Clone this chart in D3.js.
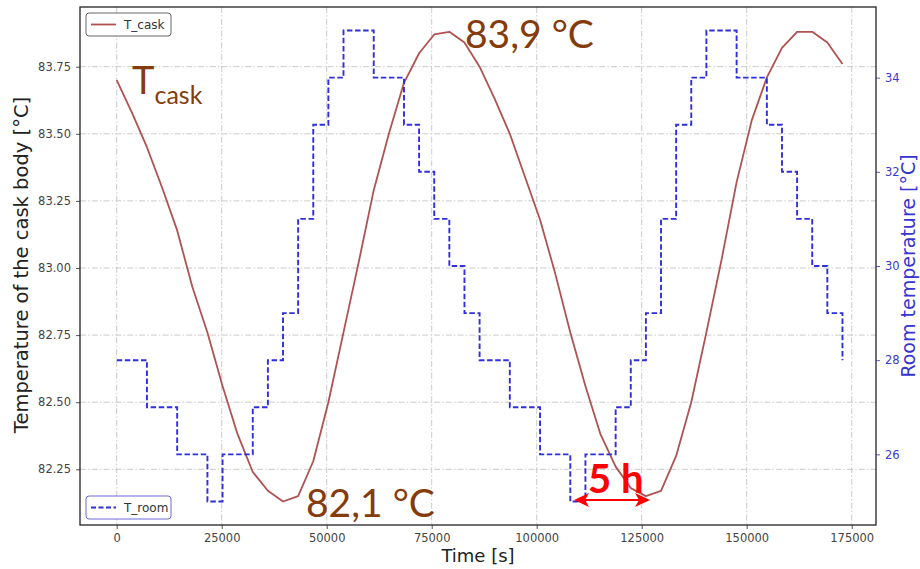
<!DOCTYPE html>
<html>
<head>
<meta charset="utf-8">
<script src="https://cdn.jsdelivr.net/npm/d3@7"></script>
<style>
  body { margin: 0; background: #fff; }
  svg { display: block; }
</style>
</head>
<body>
<svg id="chart" width="920" height="569"></svg>
<script>
// Hourly samples over two days [s]
const timeS = [
  0, 3600, 7200, 10800, 14400, 18000, 21600, 25200, 28800, 32400,
  36000, 39600, 43200, 46800, 50400, 54000, 57600, 61200, 64800, 68400,
  72000, 75600, 79200, 82800, 86400, 90000, 93600, 97200, 100800, 104400,
  108000, 111600, 115200, 118800, 122400, 126000, 129600, 133200, 136800, 140400,
  144000, 147600, 151200, 154800, 158400, 162000, 165600, 169200, 172800
];

// Cask body temperature [°C]
const tCask = [
  83.70, 83.58, 83.45, 83.30, 83.14, 82.93, 82.76, 82.56, 82.38, 82.24,
  82.17, 82.13, 82.15, 82.28, 82.50, 82.76, 83.02, 83.29, 83.50, 83.69,
  83.80, 83.87, 83.88, 83.84, 83.75, 83.63, 83.50, 83.34, 83.18, 82.98,
  82.76, 82.56, 82.38, 82.26, 82.18, 82.15, 82.17, 82.30, 82.50, 82.76,
  83.03, 83.32, 83.55, 83.71, 83.82, 83.88, 83.88, 83.84, 83.76
];

// Room temperature [°C], held constant until the next sample
const tRoom = [
  28, 28, 27, 27, 26, 26, 25, 26, 26, 27,
  28, 29, 31, 33, 34, 35, 35, 34, 34, 33,
  32, 31, 30, 29, 28, 28, 27, 27, 26, 26,
  25, 26, 26, 27, 28, 29, 31, 33, 34, 35,
  35, 34, 34, 33, 32, 31, 30, 29, 28
];

const timeTicks = [0, 25000, 50000, 75000, 100000, 125000, 150000, 175000];
const caskTicks = [82.25, 82.50, 82.75, 83.00, 83.25, 83.50, 83.75];
const roomTicks = [26, 28, 30, 32, 34];

const plot = { left: 80, right: 876, top: 7, bottom: 525 };
const svg = d3.select("#chart");

const x = d3.scaleLinear().domain([-8738, 180786]).range([plot.left, plot.right]);
const yCask = d3.scaleLinear().domain([82.0425, 83.9724]).range([plot.bottom, plot.top]);
const yRoom = d3.scaleLinear().domain([24.5, 35.5]).range([plot.bottom, plot.top]);

svg.append("defs").append("clipPath").attr("id", "plotClip")
  .append("rect")
  .attr("x", plot.left).attr("y", plot.top)
  .attr("width", plot.right - plot.left).attr("height", plot.bottom - plot.top);

// Grid
const grid = svg.append("g").attr("stroke", "#c4c4c4").attr("stroke-width", 0.9)
  .attr("stroke-dasharray", "6,2.2,1.4,2.2");
grid.selectAll("line.v").data(timeTicks).join("line").attr("class", "v")
  .attr("x1", d => x(d)).attr("x2", d => x(d))
  .attr("y1", plot.top).attr("y2", plot.bottom);
grid.selectAll("line.h").data(caskTicks).join("line").attr("class", "h")
  .attr("x1", plot.left).attr("x2", plot.right)
  .attr("y1", d => yCask(d)).attr("y2", d => yCask(d));

// Series
const lines = svg.append("g").attr("clip-path", "url(#plotClip)");
lines.append("path")
  .datum(timeS.map((t, i) => [t, tCask[i]]))
  .attr("fill", "none").attr("stroke", "#b05252").attr("stroke-width", 1.8)
  .attr("stroke-linejoin", "round")
  .attr("d", d3.line().x(d => x(d[0])).y(d => yCask(d[1])));
lines.append("path")
  .datum(timeS.map((t, i) => [t, tRoom[i]]))
  .attr("fill", "none").attr("stroke", "#2f2fdc").attr("stroke-width", 1.9)
  .attr("stroke-dasharray", "5.5,2.6")
  .attr("d", d3.line().curve(d3.curveStepAfter).x(d => x(d[0])).y(d => yRoom(d[1])));

// Axes
const tickFont = "DejaVu Sans, sans-serif";
const xAxis = svg.append("g").attr("transform", `translate(0,${plot.bottom})`)
  .call(d3.axisBottom(x).tickValues(timeTicks).tickFormat(d3.format("d")).tickSize(4).tickPadding(5));
const leftAxis = svg.append("g").attr("transform", `translate(${plot.left},0)`)
  .call(d3.axisLeft(yCask).tickValues(caskTicks).tickFormat(d3.format(".2f")).tickSize(4).tickPadding(5));
const rightAxis = svg.append("g").attr("transform", `translate(${plot.right},0)`)
  .call(d3.axisRight(yRoom).tickValues(roomTicks).tickFormat(d3.format("d")).tickSize(4).tickPadding(5));
[xAxis, leftAxis, rightAxis].forEach(a => {
  a.select(".domain").remove();
  a.selectAll("text").attr("font-family", tickFont).attr("font-size", 11.5).attr("fill", "#444");
  a.selectAll("line").attr("stroke", "#555");
});
rightAxis.selectAll("text").attr("fill", "#3a3ad0");
rightAxis.selectAll("line").attr("stroke", "#5a5ad0");

// Frame
svg.append("rect")
  .attr("x", plot.left).attr("y", plot.top)
  .attr("width", plot.right - plot.left).attr("height", plot.bottom - plot.top)
  .attr("fill", "none").attr("stroke", "#222").attr("stroke-width", 1.3);

// Axis titles
svg.append("text").attr("x", 478).attr("y", 562)
  .attr("text-anchor", "middle").attr("font-family", tickFont).attr("font-size", 18)
  .attr("fill", "#222").text("Time [s]");
svg.append("text").attr("transform", `translate(28,265) rotate(-90)`)
  .attr("text-anchor", "middle").attr("font-family", tickFont).attr("font-size", 19.5)
  .attr("fill", "#222").text("Temperature of the cask body [°C]");
svg.append("text").attr("transform", `translate(915,266) rotate(-90)`)
  .attr("text-anchor", "middle").attr("font-family", tickFont).attr("font-size", 19)
  .attr("fill", "#3535cf").text("Room temperature [°C]");

// Legends
function legend(y0, label, color, dash, border) {
  const g = svg.append("g");
  g.append("rect").attr("x", 86).attr("y", y0).attr("width", 85).attr("height", 23)
    .attr("rx", 3).attr("fill", "#fff").attr("stroke", border).attr("stroke-width", 1);
  g.append("line").attr("x1", 91).attr("x2", 116).attr("y1", y0 + 11.5).attr("y2", y0 + 11.5)
    .attr("stroke", color).attr("stroke-width", 1.8).attr("stroke-dasharray", dash);
  g.append("text").attr("x", 124).attr("y", y0 + 16).attr("font-family", tickFont)
    .attr("font-size", 12).attr("fill", "#333").text(label);
}
legend(13, "T_cask", "#b05252", null, "#666");
legend(496, "T_room", "#2f2fdc", "5,2.5", "#6a6ad6");

// Annotations
const annoFont = "Lato, 'Open Sans', sans-serif";
const brown = "#843c0c";
const tLabel = svg.append("text").attr("x", 132).attr("y", 94)
  .attr("font-family", annoFont).attr("fill", brown);
tLabel.append("tspan").attr("font-size", 38).text("T");
tLabel.append("tspan").attr("font-size", 25).attr("dy", 10).text("cask");

svg.append("text").attr("x", 465).attr("y", 48)
  .attr("font-family", annoFont).attr("font-size", 39).attr("fill", brown).text("83,9 °C");
svg.append("text").attr("x", 306).attr("y", 517)
  .attr("font-family", annoFont).attr("font-size", 39).attr("fill", brown).text("82,1 °C");

svg.append("text").attr("x", 588).attr("y", 493)
  .attr("font-family", annoFont).attr("font-weight", "bold").attr("font-size", 40)
  .attr("fill", "#f00").text("5 h");

// Double-headed arrow spanning the 5 h lag
const arrowY = 500, ax1 = 574, ax2 = 650;
svg.append("line").attr("x1", ax1 + 10).attr("x2", ax2 - 10).attr("y1", arrowY).attr("y2", arrowY)
  .attr("stroke", "#f00").attr("stroke-width", 2);
svg.append("path").attr("fill", "#f00")
  .attr("d", `M${ax1},${arrowY} L${ax1 + 15},${arrowY - 7} L${ax1 + 11},${arrowY} L${ax1 + 15},${arrowY + 7} Z`);
svg.append("path").attr("fill", "#f00")
  .attr("d", `M${ax2},${arrowY} L${ax2 - 15},${arrowY - 7} L${ax2 - 11},${arrowY} L${ax2 - 15},${arrowY + 7} Z`);
</script>
</body>
</html>
